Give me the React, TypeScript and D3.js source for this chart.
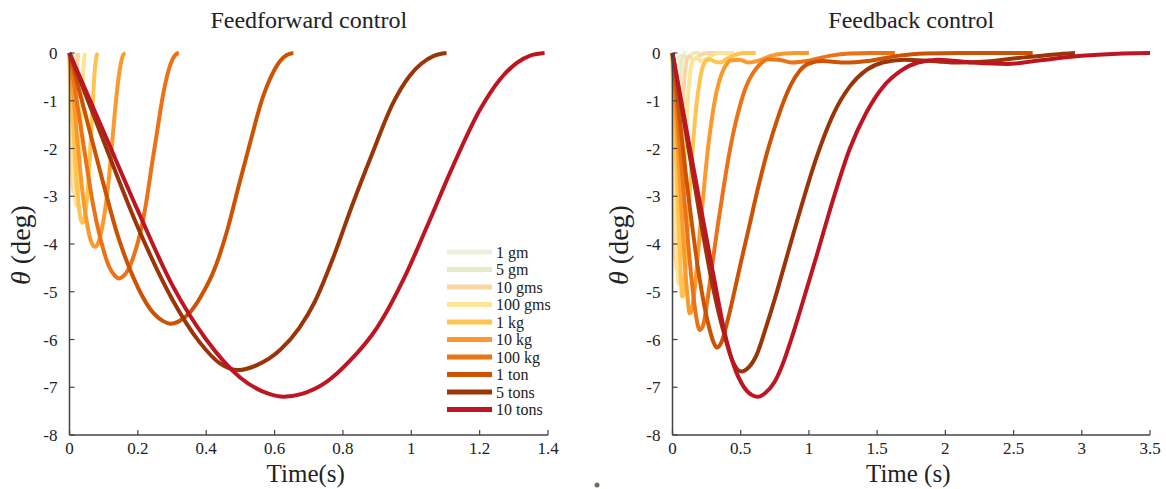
import React from "react";
import * as d3 from "d3";

const labels = ["1 gm", "5 gm", "10 gms", "100 gms", "1 kg", "10 kg", "100 kg", "1 ton", "5 tons", "10 tons"];
const colors = ["#eef0dc", "#e8ecc6", "#fdd6a8", "#fee496", "#fec44f", "#fb9a2c", "#ec7217", "#cc5204", "#993506", "#bd1622"];

const ffTicksX = [0, 0.2, 0.4, 0.6, 0.8, 1, 1.2, 1.4];
const fbTicksX = [0, 0.5, 1, 1.5, 2, 2.5, 3, 3.5];
const ticksY = [0, -1, -2, -3, -4, -5, -6, -7, -8];

// Feedforward control
const ff1gm = [[0, 0], [0.0012, -0.9], [0.0023, -1.62], [0.0036, -1.95], [0.0043, -1.87], [0.0052, -1.55], [0.006, -0.94], [0.0068, -0.32], [0.0075, -0.05], [0.008, 0]];
const ff5gm = [[0, 0], [0.0023, -1.1], [0.0046, -2.0], [0.0072, -2.4], [0.0086, -2.3], [0.0103, -1.9], [0.012, -1.16], [0.0135, -0.4], [0.015, -0.07], [0.016, 0]];
const ff10gms = [[0, 0], [0.0037, -1.33], [0.0075, -2.44], [0.0117, -2.9], [0.014, -2.77], [0.0168, -2.31], [0.0196, -1.4], [0.022, -0.48], [0.0245, -0.08], [0.026, 0]];
const ff100gms = [[0, 0], [0.0066, -1.47], [0.0132, -2.7], [0.0207, -3.2], [0.0248, -3.06], [0.0297, -2.55], [0.0346, -1.55], [0.039, -0.53], [0.0434, -0.09], [0.046, 0]];
const ff1kg = [[0, 0], [0.006, -0.82], [0.012, -1.63], [0.018, -2.4], [0.024, -2.96], [0.0299, -3.36], [0.0346, -3.52], [0.0374, -3.56], [0.0406, -3.53], [0.0448, -3.41], [0.049, -3.19], [0.0537, -2.84], [0.0585, -2.32], [0.0624, -1.8], [0.0669, -1.19], [0.0717, -0.59], [0.0752, -0.27], [0.0782, -0.1], [0.083, 0]];
const ff10kg = [[0, 0], [0.0117, -0.93], [0.0235, -1.86], [0.0352, -2.74], [0.047, -3.38], [0.0587, -3.84], [0.068, -4.02], [0.0734, -4.06], [0.08, -4.03], [0.088, -3.89], [0.096, -3.64], [0.105, -3.24], [0.115, -2.65], [0.1226, -2.06], [0.1314, -1.35], [0.1408, -0.68], [0.148, -0.31], [0.1537, -0.11], [0.158, -0.03], [0.163, 0]];
const ff100kg = [[0, 0], [0.023, -1.08], [0.046, -2.16], [0.069, -3.18], [0.092, -3.93], [0.115, -4.46], [0.1335, -4.67], [0.144, -4.72], [0.1565, -4.68], [0.173, -4.52], [0.189, -4.23], [0.207, -3.77], [0.2256, -3.08], [0.24, -2.39], [0.258, -1.57], [0.276, -0.79], [0.29, -0.36], [0.3016, -0.13], [0.311, -0.03], [0.32, 0]];
const ff1ton = [[0, 0], [0.0471, -1.3], [0.0942, -2.6], [0.141, -3.82], [0.188, -4.72], [0.236, -5.36], [0.273, -5.61], [0.295, -5.67], [0.32, -5.62], [0.353, -5.43], [0.386, -5.08], [0.424, -4.53], [0.462, -3.7], [0.492, -2.87], [0.528, -1.89], [0.565, -0.94], [0.594, -0.43], [0.617, -0.16], [0.636, -0.04], [0.655, 0]];
const ff5tons = [[0, 0], [0.1, -1.85], [0.2, -3.65], [0.3, -5.15], [0.38, -6.05], [0.44, -6.5], [0.494, -6.64], [0.55, -6.53], [0.616, -6.22], [0.672, -5.76], [0.717, -5.22], [0.774, -4.24], [0.825, -3.23], [0.885, -2.12], [0.948, -1.03], [0.995, -0.48], [1.03, -0.22], [1.066, -0.06], [1.103, 0]];
const ff10tons = [[0, 0], [0.1, -1.65], [0.2, -3.3], [0.3, -4.85], [0.4, -6.0], [0.5, -6.8], [0.58, -7.13], [0.626, -7.2], [0.68, -7.14], [0.75, -6.9], [0.82, -6.45], [0.9, -5.75], [0.98, -4.7], [1.045, -3.65], [1.12, -2.4], [1.2, -1.2], [1.26, -0.55], [1.31, -0.2], [1.35, -0.05], [1.39, 0]];

// Feedback control
const fb1gm = [[0, 0], [0.003, -1.5], [0.006, -3.0], [0.009, -3.8], [0.011, -4.05], [0.014, -3.9], [0.019, -3.2], [0.025, -2.1], [0.031, -1.1], [0.038, -0.4], [0.045, -0.12], [0.055, -0.05], [0.068, -0.08], [0.082, -0.04], [0.095, 0], [0.1, 0]];
const fb5gm = [[0, 0], [0.005, -1.5], [0.01, -3.0], [0.015, -4.0], [0.019, -4.3], [0.023, -4.2], [0.03, -3.5], [0.038, -2.4], [0.047, -1.3], [0.056, -0.55], [0.066, -0.18], [0.078, -0.06], [0.095, -0.1], [0.115, -0.08], [0.14, -0.02], [0.16, 0], [0.2, 0]];
const fb10gms = [[0, 0], [0.008, -1.5], [0.016, -3.0], [0.024, -4.1], [0.03, -4.5], [0.036, -4.4], [0.045, -3.8], [0.056, -2.8], [0.068, -1.7], [0.08, -0.85], [0.093, -0.35], [0.108, -0.12], [0.125, -0.08], [0.15, -0.14], [0.18, -0.1], [0.22, -0.02], [0.26, 0], [0.38, 0]];
const fb100gms = [[0, 0], [0.012, -1.6], [0.025, -3.2], [0.036, -4.4], [0.043, -4.82], [0.05, -4.75], [0.06, -4.3], [0.072, -3.5], [0.085, -2.6], [0.1, -1.6], [0.115, -0.85], [0.13, -0.4], [0.15, -0.15], [0.175, -0.1], [0.21, -0.17], [0.25, -0.12], [0.3, -0.03], [0.35, 0], [0.45, 0]];
const fb1kg = [[0, 0], [0.02, -1.6], [0.04, -3.2], [0.058, -4.5], [0.071, -5.1], [0.08, -5.05], [0.093, -4.65], [0.11, -3.8], [0.128, -2.9], [0.145, -2.1], [0.165, -1.4], [0.186, -0.85], [0.21, -0.42], [0.235, -0.2], [0.27, -0.13], [0.31, -0.18], [0.35, -0.2], [0.4, -0.12], [0.46, -0.04], [0.52, 0], [0.61, 0]];
const fb10kg = [[0, 0], [0.03, -1.5], [0.06, -3.0], [0.09, -4.4], [0.11, -5.1], [0.125, -5.45], [0.14, -5.4], [0.16, -5.0], [0.187, -4.2], [0.21, -3.45], [0.235, -2.7], [0.26, -2.0], [0.29, -1.35], [0.32, -0.85], [0.355, -0.48], [0.39, -0.26], [0.43, -0.15], [0.49, -0.14], [0.56, -0.2], [0.63, -0.16], [0.72, -0.06], [0.82, -0.01], [0.9, 0], [1.0, 0]];
const fb100kg = [[0, 0], [0.05, -1.8], [0.1, -3.5], [0.14, -4.75], [0.17, -5.45], [0.198, -5.8], [0.225, -5.7], [0.255, -5.2], [0.296, -4.34], [0.33, -3.65], [0.37, -2.9], [0.41, -2.2], [0.44, -1.75], [0.49, -1.15], [0.54, -0.7], [0.59, -0.42], [0.64, -0.24], [0.7, -0.13], [0.78, -0.14], [0.88, -0.2], [1.0, -0.16], [1.15, -0.06], [1.3, -0.01], [1.45, 0], [1.63, 0]];
const fb1ton = [[0, 0], [0.1, -2.6], [0.2, -4.75], [0.26, -5.65], [0.3, -6.05], [0.325, -6.17], [0.36, -6.05], [0.4, -5.65], [0.44, -5.17], [0.5, -4.4], [0.565, -3.6], [0.625, -2.85], [0.687, -2.15], [0.75, -1.55], [0.81, -1.05], [0.87, -0.65], [0.93, -0.38], [1.0, -0.22], [1.1, -0.17], [1.25, -0.2], [1.45, -0.16], [1.65, -0.06], [1.85, -0.01], [2.1, 0], [2.64, 0]];
const fb5tons = [[0, 0], [0.1, -1.7], [0.2, -3.4], [0.3, -4.95], [0.38, -5.9], [0.44, -6.45], [0.504, -6.67], [0.56, -6.58], [0.62, -6.3], [0.687, -5.73], [0.75, -5.15], [0.81, -4.55], [0.93, -3.35], [1.054, -2.2], [1.176, -1.3], [1.3, -0.7], [1.42, -0.36], [1.54, -0.2], [1.7, -0.14], [1.9, -0.17], [2.1, -0.2], [2.3, -0.18], [2.55, -0.1], [2.8, -0.03], [2.95, 0]];
const fb10tons = [[0, 0], [0.1, -1.57], [0.2, -3.13], [0.3, -4.65], [0.39, -5.95], [0.45, -6.55], [0.52, -6.98], [0.58, -7.16], [0.626, -7.2], [0.68, -7.12], [0.75, -6.88], [0.81, -6.5], [0.87, -6.0], [0.93, -5.45], [1.054, -4.27], [1.176, -3.08], [1.3, -2.0], [1.42, -1.25], [1.54, -0.72], [1.67, -0.38], [1.8, -0.2], [1.95, -0.14], [2.2, -0.2], [2.45, -0.23], [2.7, -0.15], [3.0, -0.06], [3.3, -0.01], [3.5, 0]];

const ffSeries = [ff1gm, ff5gm, ff10gms, ff100gms, ff1kg, ff10kg, ff100kg, ff1ton, ff5tons, ff10tons];
const fbSeries = [fb1gm, fb5gm, fb10gms, fb100gms, fb1kg, fb10kg, fb100kg, fb1ton, fb5tons, fb10tons];

const FONT = "'Liberation Serif', 'Times New Roman', Times, 'DejaVu Serif', serif";
const AXIS = "#444";
const TXT = "#222";

type PanelProps = {
  x0: number; x1: number; domainMax: number; ticks: number[];
  series: number[][][]; title: string; xlabel: string; ylabelX: number;
};

function Panel({ x0, x1, domainMax, ticks, series, title, xlabel, ylabelX }: PanelProps) {
  const x = d3.scaleLinear().domain([0, domainMax]).range([x0, x1]);
  const y = d3.scaleLinear().domain([0, -8]).range([53, 435]);
  const line = d3.line<number[]>().x(d => x(d[0])).y(d => y(d[1])).curve(d3.curveMonotoneX);
  const cx = (x0 + x1) / 2;
  const f = { fontFamily: FONT };
  return (
    <g>
      <text x={cx} y={28} textAnchor="middle" fontSize={24} style={f} fill={TXT}>{title}</text>
      {series.map((s, i) => (
        <path key={i} d={line(s) || ""} fill="none" stroke={colors[i]} strokeWidth={4} strokeLinejoin="round" />
      ))}
      <line x1={x0} x2={x0} y1={y(0)} y2={y(-8)} stroke={AXIS} strokeWidth={1.5} />
      <line x1={x0} x2={x1} y1={y(-8)} y2={y(-8)} stroke={AXIS} strokeWidth={1.5} />
      {ticksY.map(t => (
        <g key={"y" + t}>
          <line x1={x0} x2={x0 + 5} y1={y(t)} y2={y(t)} stroke={AXIS} strokeWidth={1.2} />
          <text x={x0 - 12} y={y(t) + 6} textAnchor="end" fontSize={17} style={f} fill={TXT}>{String(t)}</text>
        </g>
      ))}
      {ticks.map(t => (
        <g key={"x" + t}>
          <line x1={x(t)} x2={x(t)} y1={y(-8)} y2={y(-8) - 5} stroke={AXIS} strokeWidth={1.2} />
          <text x={x(t)} y={454} textAnchor="middle" fontSize={17} style={f} fill={TXT}>{String(t)}</text>
        </g>
      ))}
      <text x={cx - 3} y={482} textAnchor="middle" fontSize={25} style={f} fill={TXT}>{xlabel}</text>
      <text transform={`translate(${ylabelX},245) rotate(-90)`} textAnchor="middle" fontSize={28} style={f} fill={TXT}>
        <tspan fontStyle="italic">θ</tspan> (deg)
      </text>
    </g>
  );
}

export default function App() {
  return (
    <svg width={1166} height={489} style={{ position: "absolute", left: 0, top: 0, background: "#fff" }}>
      <rect width={1166} height={489} fill="#fff" />
      <Panel x0={69.5} x1={548} domainMax={1.4} ticks={ffTicksX} series={ffSeries}
        title="Feedforward control" xlabel="Time(s)" ylabelX={30} />
      <Panel x0={672.5} x1={1150} domainMax={3.5} ticks={fbTicksX} series={fbSeries}
        title="Feedback control" xlabel="Time (s)" ylabelX={628} />
      {labels.map((l, i) => (
        <g key={l}>
          <line x1={447} x2={492} y1={252 + i * 17.5} y2={252 + i * 17.5} stroke={colors[i]} strokeWidth={5} />
          <text x={496} y={252 + i * 17.5 + 5.5} fontSize={16} style={{ fontFamily: FONT }} fill={TXT}>{l}</text>
        </g>
      ))}
      <circle cx={597} cy={485} r={2.5} fill="#6e7050" />
    </svg>
  );
}
